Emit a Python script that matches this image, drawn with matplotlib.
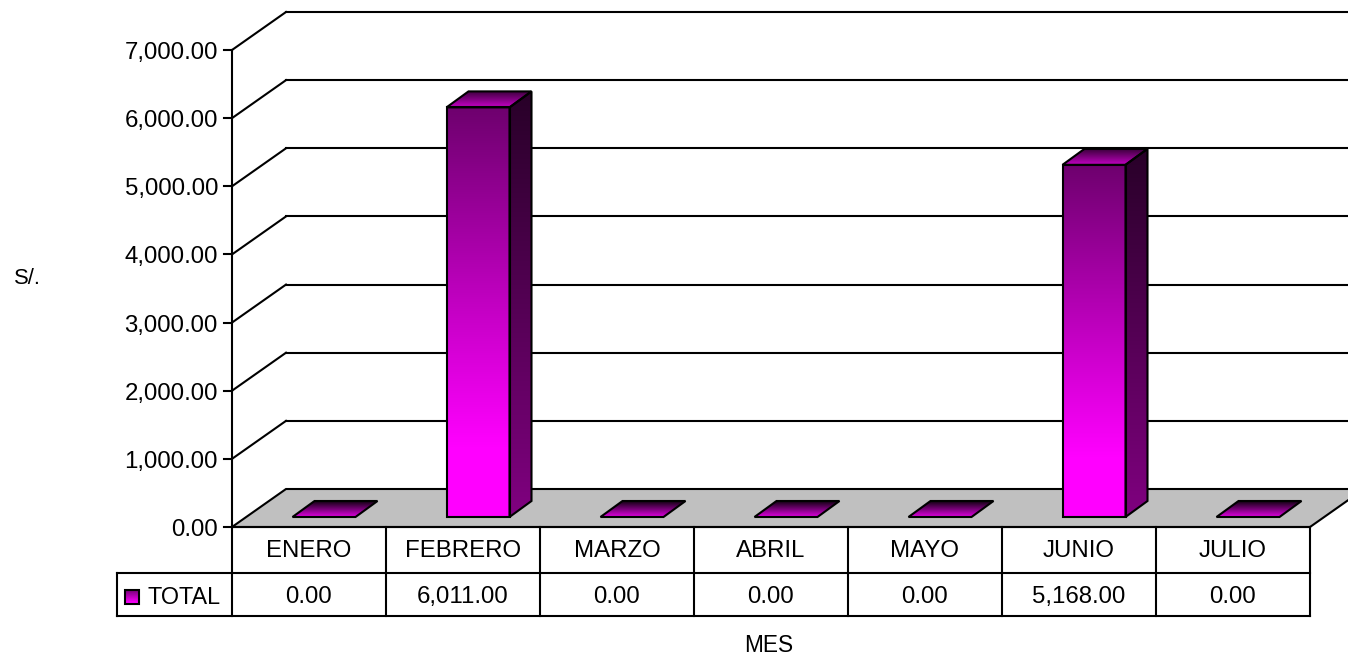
#!/usr/bin/env python3
import numpy as np
import matplotlib
matplotlib.use("Agg")
import matplotlib.pyplot as plt
from matplotlib.colors import LinearSegmentedColormap
from matplotlib.patches import Polygon

plt.rcParams["font.family"] = ["Liberation Sans", "DejaVu Sans"]

months = ["ENERO", "FEBRERO", "MARZO", "ABRIL", "MAYO", "JUNIO", "JULIO"]
totals = [0.0, 6011.0, 0.0, 0.0, 0.0, 5168.0, 0.0]
y_ticks = [0, 1000, 2000, 3000, 4000, 5000, 6000, 7000]
series_name = "TOTAL"

W, H = 1348, 654
# pixel box of the front plane
LEFT, RIGHT, BOTTOM, TOP = 232, 1310, 527, 50
UX = (RIGHT - LEFT) / len(months)
UY = (BOTTOM - TOP) / max(y_ticks)

FS = 17.3
LW = 1.5


def px(dx):
    return dx / UX


def py(dy):
    return dy / UY


front_cm = LinearSegmentedColormap.from_list("front", [(0, "#ff00ff"), (0.17, "#ff00ff"), (1, "#6e006e")])
side_cm = LinearSegmentedColormap.from_list("side", ["#800080", "#280028"])
top_cm = LinearSegmentedColormap.from_list("top", ["#c400c4", "#3c003c"])
flat_cm = LinearSegmentedColormap.from_list("flat", ["#e000e0", "#100010"])
key_cm = LinearSegmentedColormap.from_list("key", ["#ff00ff", "#600060"])


def shaded(ax, pts, cmap):
    # vertical gradient clipped to the polygon
    pts = np.array(pts)
    grad = np.linspace(1, 0, 256).reshape(-1, 1)
    im = ax.imshow(grad, cmap=cmap, vmin=0, vmax=1, aspect="auto", zorder=3,
                   extent=(pts[:, 0].min(), pts[:, 0].max(), pts[:, 1].min(), pts[:, 1].max()))
    poly = Polygon(pts, closed=True, fc="none", ec="black", lw=LW, zorder=4, clip_on=False)
    ax.add_patch(poly)
    im.set_clip_path(poly)
    im.set_clip_box(ax.figure.bbox)


fig = plt.figure(figsize=(W / 100, H / 100), dpi=100, facecolor="white")
ax = fig.add_axes([LEFT / W, 1 - BOTTOM / H, (RIGHT - LEFT) / W, (BOTTOM - TOP) / H])
ax.axis("off")

depth_x, depth_y = px(54), py(38)
n = len(months)

# floor
ax.add_patch(Polygon([(0, 0), (n, 0), (n + depth_x, depth_y), (depth_x, depth_y)],
                     closed=True, fc="#c0c0c0", ec="black", lw=LW, zorder=1, clip_on=False))

# walls: gridlines and diagonals
for t in y_ticks:
    if t > 0:
        ax.plot([depth_x, n + depth_x], [t + depth_y, t + depth_y], color="black", lw=LW, zorder=1, clip_on=False)
        ax.plot([0, depth_x], [t, t + depth_y], color="black", lw=LW, zorder=1, clip_on=False)
    ax.plot([-px(8), 0], [t, t], color="black", lw=LW, zorder=2, clip_on=False)
    ax.text(-px(14), t - py(9), f"{t:,.2f}", ha="right", va="baseline", fontsize=FS, color="black")
ax.plot([0, 0], [0, max(y_ticks)], color="black", lw=LW, zorder=2, clip_on=False)

# bars
bar_w = px(63)
bar_dx, bar_dy = px(22), py(16)
off_x, off_y = px(15), py(10)
for i, v in enumerate(totals):
    x0 = i + 0.5 + off_x - bar_w / 2
    x1 = x0 + bar_w
    y0 = off_y
    y1 = off_y + v
    if v > 0:
        shaded(ax, [(x0, y0), (x1, y0), (x1, y1), (x0, y1)], front_cm)
        shaded(ax, [(x1, y0), (x1 + bar_dx, y0 + bar_dy), (x1 + bar_dx, y1 + bar_dy), (x1, y1)], side_cm)
        shaded(ax, [(x0, y1), (x1, y1), (x1 + bar_dx, y1 + bar_dy), (x0 + bar_dx, y1 + bar_dy)], top_cm)
    else:
        shaded(ax, [(x0, y1), (x1, y1), (x1 + bar_dx, y1 + bar_dy), (x0 + bar_dx, y1 + bar_dy)], flat_cm)

# data table under the chart
row1 = -py(46)
row2 = -py(89)
leg_x = -px(115)
for yy in [0, row1, row2]:
    ax.plot([leg_x if yy != 0 else 0, n], [yy, yy], color="black", lw=LW, zorder=5, clip_on=False)
for i in range(n + 1):
    ax.plot([i, i], [row2, 0], color="black", lw=LW, zorder=5, clip_on=False)
ax.plot([leg_x, leg_x], [row2, row1], color="black", lw=LW, zorder=5, clip_on=False)
for i, (m, v) in enumerate(zip(months, totals)):
    ax.text(i + 0.5, -py(30), m, ha="center", va="baseline", fontsize=FS)
    ax.text(i + 0.5, -py(76), f"{v:,.2f}", ha="center", va="baseline", fontsize=FS)

# legend key
ky = -py(69.5)
kx = leg_x + px(8)
shaded(ax, [(kx, ky - py(7)), (kx + px(14), ky - py(7)), (kx + px(14), ky + py(7)), (kx, ky + py(7))], key_cm)
ax.text(leg_x + px(30), -py(77), series_name, ha="left", va="baseline", fontsize=FS - 0.5)

ax.set_xlim(0, n)
ax.set_ylim(0, max(y_ticks))

fig.text(14 / W, 1 - 279 / H, "S/.", ha="left", va="center", fontsize=FS - 1.5)
fig.text(769 / W, 1 - 645 / H, "MES", ha="center", va="center", fontsize=FS - 1)

fig.savefig("out.png", dpi=100, facecolor="white")
